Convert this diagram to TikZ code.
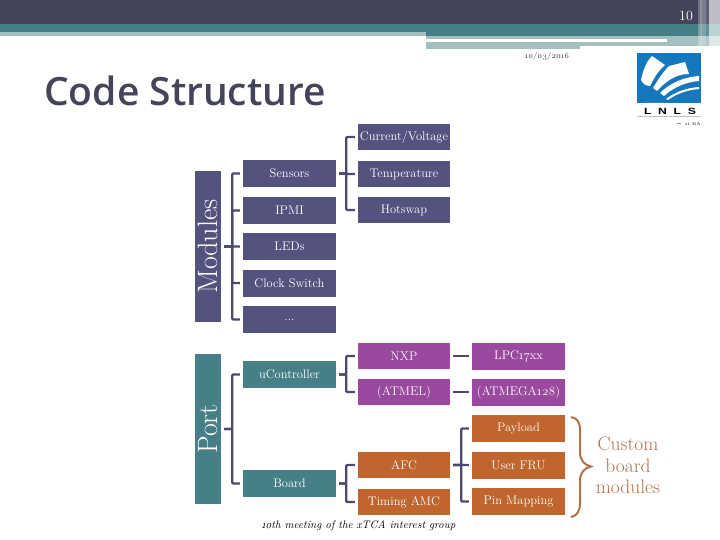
\documentclass[tikz,border=0pt]{standalone}
\usepackage{fontspec}
\setmainfont{Latin Modern Roman}[Numbers=OldStyle]
\newfontfamily\titlefont{Open Sans Semibold}
\newfontfamily\logofont[LetterSpace=55]{Liberation Sans Bold}
\definecolor{hdark}{HTML}{44445A}
\definecolor{hteal}{HTML}{467F85}
\definecolor{hlight}{HTML}{A3BFC0}
\definecolor{boxblue}{HTML}{54527F}
\definecolor{boxpurple}{HTML}{9A4A9E}
\definecolor{boxorange}{HTML}{C0652D}
\definecolor{connc}{HTML}{4A4A6C}
\definecolor{bracec}{HTML}{B0714A}
\definecolor{logoblue}{HTML}{1578BC}
\tikzset{
  x=1pt,y=-1pt,
  boxbase/.style={inner sep=0pt,text=white,font=\fontsize{12.5}{15}\selectfont},
  sidebox/.style={boxbase,minimum width=26pt,minimum height=#1,font=\fontsize{28}{30}\selectfont},
  midbox/.style={boxbase,minimum width=93pt,minimum height=27pt},
  leafbox/.style={boxbase,minimum width=92pt,minimum height=26pt},
  endbox/.style={boxbase,minimum width=93pt,minimum height=27pt},
  conn/.style={draw=connc,line width=2.2pt,rounded corners=1pt,shorten <=3pt,shorten >=3pt},
}
\begin{document}
\begin{tikzpicture}
\useasboundingbox (0,0) rectangle (720,540);
% header bands
\fill[hdark] (0,0) rectangle (720,24);
\fill[hteal] (0,24) rectangle (426,32);
\fill[hlight] (0,32) rectangle (426,36);
\fill[hteal] (426,24) rectangle (720,36);
\fill[hlight] (426,36) rectangle (720,39);
\fill[hlight] (426,42) rectangle (580,49);
\fill[hlight] (580,42) rectangle (720,46);
\fill[hlight] (667,39) rectangle (720,42);
\fill[white,opacity=.25] (698,0) rectangle (700,46);
\fill[white,opacity=.40] (700,0) rectangle (702,46);
\fill[white,opacity=.30] (702,0) rectangle (706,46);
\fill[white,opacity=.15] (706,0) rectangle (709,46);
\fill[white,opacity=.65] (709,0) rectangle (720,46);
\node[text=white,font=\addfontfeatures{Numbers=Lining}\fontsize{14}{15}\selectfont] (pg) at (686,15.5) {10};
\node[text=hdark,font=\fontsize{8}{10}\selectfont] (date) at (547,57) {10/03/2016};
\node[anchor=base west,inner sep=0pt,text=hdark,font=\titlefont\fontsize{39}{44}\selectfont] (title) at (44,106) {Code Structure};
% logo
\fill[logoblue] (637,53) rectangle (701,103);
\fill[white] (641,80) .. controls (644,66) and (648,60) .. (652,56) -- (665,65) .. controls (658,71) and (654,78) .. (650,86) .. controls (646,86) and (643,84) .. (641,80) -- cycle;
\fill[white] (653,88) .. controls (659,78) and (664,71) .. (669,66) -- (685,62) .. controls (687,68) and (688,71) .. (689,74) .. controls (676,74) and (666,81) .. (657,91) -- cycle;
\fill[white] (660,93) .. controls (670,83) and (684,77) .. (699,76) -- (699,81) .. controls (686,82) and (674,87) .. (664,96) -- cycle;
\fill[white] (666,99) .. controls (675,92) and (686,88) .. (699,87) -- (699,89) .. controls (687,90) and (676,94) .. (668,100) -- cycle;
\fill[white] (646,103) arc[start angle=180,end angle=25,radius=9] -- (663,103) -- cycle;
\node[inner sep=0pt,text=black,font=\logofont\fontsize{9}{10}\selectfont] (lnls) at (670,111) {\scalebox{1.35}[1]{LNLS}};
\draw[black!25,line width=.6pt] (637,116.5) -- (701,116.5);
\node[inner sep=0pt,anchor=east,text=black!70,font=\bfseries\fontsize{4}{5}\selectfont] (tiny) at (701,124) {st BA};
\fill[logoblue!70] (677,123.5) rectangle (681,124.5);
% side boxes
\node[sidebox=151pt,fill=boxblue] (mod) at (208,246.5) {\rotatebox{90}{Modules}};
\node[sidebox=150pt,fill=hteal] (port) at (208,429) {\rotatebox{90}{Port}};
% modules
\node[midbox,fill=boxblue] (sens) at (289.5,173.5) {Sensors};
\node[midbox,fill=boxblue] (ipmi) at (289.5,210.5) {IPMI};
\node[midbox,fill=boxblue] (leds) at (289.5,246.5) {LEDs};
\node[midbox,fill=boxblue] (clock) at (289.5,283) {Clock Switch};
\node[midbox,fill=boxblue] (dots) at (289.5,319.5) {...};
\node[leafbox,fill=boxblue] (cv) at (404,137) {Current/Voltage};
\node[leafbox,fill=boxblue] (temp) at (404,174) {Temperature};
\node[leafbox,fill=boxblue] (hot) at (404,210) {Hotswap};
% port
\node[midbox,fill=hteal] (uc) at (289.5,374.5) {uController};
\node[midbox,fill=hteal] (board) at (289.5,483.5) {Board};
\node[leafbox,fill=boxpurple] (nxp) at (404,356) {NXP};
\node[leafbox,fill=boxpurple] (atmel) at (404,392) {(ATMEL)};
\node[leafbox,fill=boxorange] (afc) at (404,465) {AFC};
\node[leafbox,fill=boxorange] (timing) at (404,502) {Timing AMC};
\node[endbox,fill=boxpurple] (lpc) at (518.5,356) {LPC17xx};
\node[endbox,fill=boxpurple] (atmega) at (518.5,392) {(ATMEGA128)};
\node[endbox,fill=boxorange] (pay) at (518.5,428.5) {Payload};
\node[endbox,fill=boxorange] (fru) at (518.5,465) {User FRU};
\node[endbox,fill=boxorange] (pin) at (518.5,501.5) {Pin Mapping};
% connectors
\foreach \c in {sens,ipmi,leds,clock,dots} \draw[conn] (mod.east) -- ++(11,0) |- (\c.west);
\foreach \c in {cv,temp,hot} \draw[conn] (sens.east) -- ++(10,0) |- (\c.west);
\foreach \c in {uc,board} \draw[conn] (port.east) -- ++(11,0) |- (\c.west);
\foreach \c in {nxp,atmel} \draw[conn] (uc.east) -- ++(10,0) |- (\c.west);
\foreach \c in {afc,timing} \draw[conn] (board.east) -- ++(10,0) |- (\c.west);
\foreach \c in {pay,fru,pin} \draw[conn] (afc.east) -- ++(11,0) |- (\c.west);
\draw[conn] (nxp.east) -- (lpc.west);
\draw[conn] (atmel.east) -- (atmega.west);
% brace and label
\coordinate (bt) at (571,417);
\coordinate (bb) at (571,517);
\coordinate (btip) at (591,466.5);
\draw[bracec,line width=2pt] (bt) .. controls (577,418) and (580,422) .. (580,430) -- (580,452) .. controls (580,460) and (584,465) .. (btip) .. controls (584,468) and (580,473) .. (580,481) -- (580,503) .. controls (580,511) and (577,516) .. (bb);
\node[align=center,inner sep=0pt,text=bracec,font=\fontsize{19.5}{21.5}\selectfont] (custom) at (628,465.5) {Custom\\board\\modules};
% footer
\node[text=black,font=\itshape\fontsize{11}{12}\selectfont] (foot) at (358.5,526) {10th meeting of the xTCA interest group};
\end{tikzpicture}
\end{document}
